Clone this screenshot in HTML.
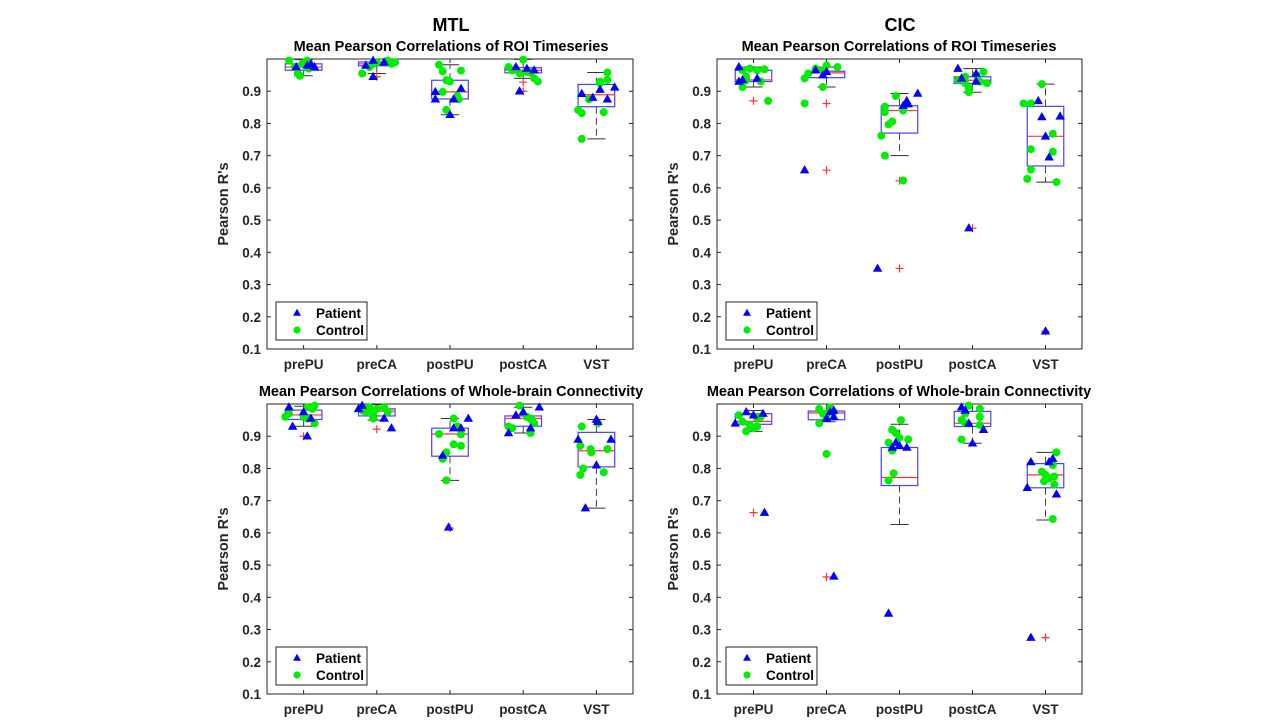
<!DOCTYPE html>
<html><head><meta charset="utf-8">
<style>
html,body{margin:0;padding:0;background:#fff;}
svg text{font-family:"Liberation Sans",Arial,sans-serif;font-weight:bold;fill:#262626;}
</style></head>
<body>
<svg id="fig" width="1280" height="720" viewBox="0 0 1280 720" xmlns="http://www.w3.org/2000/svg">
<text x="451" y="31" font-size="18" text-anchor="middle" style="fill:#000">MTL</text>
<text x="900" y="31" font-size="18" text-anchor="middle" style="fill:#000">CIC</text>
</svg>
<script>
const categories = ["prePU","preCA","postPU","postCA","VST"];
const yTicks = [0.1,0.2,0.3,0.4,0.5,0.6,0.7,0.8,0.9];
const yTickLabels = ["0.1","0.2","0.3","0.4","0.5","0.6","0.7","0.8","0.9"];
// box stats per category: [whiskerLow, q1, median, q3, whiskerHigh]
const tlBoxes = [[0.948,0.965,0.975,0.985,0.998],[0.955,0.979,0.985,0.991,1.0],[0.827,0.876,0.898,0.934,0.982],[0.940,0.957,0.965,0.973,0.999],[0.752,0.852,0.889,0.921,0.958]];
const tlOutliers = [[],[0.945],[],[0.928,0.900],[]];
const tlPatients = [[[0.975,-0.1],[0.985,0.1],[0.975,0.15],[0.98,0.05]],[[0.995,-0.05],[0.98,-0.15],[0.945,-0.05],[0.99,0.1]],[[0.898,-0.2],[0.875,-0.2],[0.827,0],[0.908,0.15],[0.875,0.05]],[[0.975,-0.1],[0.97,0.05],[0.965,0.15],[0.900,-0.05]],[[0.892,-0.2],[0.88,-0.05],[0.875,0.15],[0.912,0.25],[0.905,0.05]]];
const tlControls = [[[0.995,-0.2],[0.975,-0.12],[0.955,-0.08],[0.948,-0.05],[0.99,0.02],[0.995,0.05],[0.985,-0.02],[0.97,0.07]],[[0.955,-0.2],[0.975,-0.1],[0.985,-0.05],[0.99,0],[0.995,0.15],[0.985,0.2],[0.99,0.25]],[[0.982,-0.15],[0.962,-0.1],[0.934,-0.05],[0.93,0],[0.898,-0.1],[0.964,0.15],[0.885,0.1],[0.875,0.12],[0.842,-0.05]],[[0.975,-0.2],[0.965,-0.15],[0.998,0],[0.96,0.05],[0.955,-0.05],[0.958,0.1],[0.94,0.15],[0.93,0.2]],[[0.842,-0.25],[0.832,-0.2],[0.875,-0.1],[0.752,-0.2],[0.93,0.05],[0.935,0.15],[0.925,0.05],[0.958,0.15],[0.835,0.1]]];

const trBoxes = [[0.913,0.930,0.935,0.965,0.975],[0.913,0.942,0.957,0.962,0.975],[0.700,0.770,0.840,0.855,0.893],[0.897,0.924,0.934,0.945,0.970],[0.618,0.668,0.760,0.853,0.922]];
const trOutliers = [[0.870],[0.862,0.655],[0.622,0.350],[0.475],[0.155]];
const trPatients = [[[0.975,-0.2],[0.93,-0.2],[0.935,-0.15],[0.94,0.05]],[[0.655,-0.3],[0.965,-0.15],[0.95,-0.05],[0.96,0]],[[0.35,-0.3],[0.855,0.05],[0.87,0.1],[0.86,0.12],[0.893,0.25]],[[0.97,-0.2],[0.94,-0.15],[0.93,0.05],[0.955,0.05],[0.475,-0.05]],[[0.87,-0.1],[0.82,-0.05],[0.822,0.2],[0.76,0],[0.695,0.05],[0.155,0]]];
const trControls = [[[0.965,-0.15],[0.97,-0.05],[0.945,-0.1],[0.965,0.05],[0.968,0.15],[0.935,-0.1],[0.93,0.1],[0.913,-0.15],[0.87,0.2]],[[0.862,-0.3],[0.94,-0.3],[0.955,-0.25],[0.97,-0.15],[0.965,-0.05],[0.98,0],[0.975,0.15],[0.913,-0.05]],[[0.762,-0.25],[0.70,-0.2],[0.797,-0.15],[0.806,-0.1],[0.835,-0.2],[0.852,-0.2],[0.885,-0.05],[0.84,0.05],[0.623,0.05]],[[0.935,-0.2],[0.945,-0.1],[0.925,-0.1],[0.91,-0.05],[0.897,-0.05],[0.95,0.05],[0.96,0.15],[0.925,0.2],[0.93,0.1]],[[0.862,-0.3],[0.862,-0.2],[0.922,-0.05],[0.72,-0.2],[0.657,-0.2],[0.628,-0.25],[0.768,0.1],[0.712,0.1],[0.618,0.15]]];

const blBoxes = [[0.931,0.952,0.966,0.981,0.993],[0.950,0.963,0.978,0.985,0.998],[0.763,0.838,0.907,0.925,0.955],[0.910,0.931,0.955,0.963,0.990],[0.677,0.805,0.855,0.912,0.952]];
const blOutliers = [[0.900],[0.922],[0.615],[],[]];
const blPatients = [[[0.99,-0.2],[0.93,-0.15],[0.90,0.05],[0.975,0],[0.955,0.1]],[[0.995,-0.2],[0.985,-0.25],[0.955,0.1],[0.925,0.2]],[[0.955,0.25],[0.925,0.05],[0.925,0.15],[0.84,-0.1],[0.617,-0.02]],[[0.99,0.22],[0.965,-0.1],[0.91,-0.2],[0.925,0.1],[0.975,0]],[[0.952,0],[0.89,-0.25],[0.89,0.2],[0.81,0],[0.677,-0.15],[0.945,0.02]]];
const blControls = [[[0.96,-0.25],[0.97,-0.2],[0.99,0.05],[0.995,0.15],[0.985,0.12],[0.96,0],[0.955,0.05],[0.94,0.15]],[[0.98,-0.2],[0.985,-0.15],[0.99,-0.1],[0.975,-0.15],[0.985,0],[0.99,0.1],[0.975,0.15],[0.97,-0.05],[0.955,-0.05]],[[0.955,0.05],[0.93,0.1],[0.907,-0.15],[0.906,0.15],[0.875,0.05],[0.87,0.15],[0.85,-0.05],[0.83,-0.1],[0.763,-0.05]],[[0.995,-0.05],[0.96,0.05],[0.955,0.1],[0.95,0.12],[0.94,0.15],[0.93,-0.2],[0.925,-0.15],[0.91,0.1]],[[0.93,-0.2],[0.94,0.02],[0.87,-0.22],[0.86,-0.08],[0.86,0.15],[0.85,-0.07],[0.80,-0.18],[0.78,-0.22],[0.788,0.1]]];

const brBoxes = [[0.915,0.937,0.946,0.970,0.980],[0.945,0.951,0.972,0.978,1.0],[0.626,0.747,0.772,0.865,0.937],[0.878,0.930,0.940,0.977,1.0],[0.640,0.740,0.780,0.815,0.850]];
const brOutliers = [[0.663],[0.845,0.463],[],[],[0.275]];
const brPatients = [[[0.975,-0.1],[0.97,0.13],[0.965,0],[0.94,-0.25],[0.663,0.15]],[[0.98,0.1],[0.955,0],[0.96,0.1],[0.975,0.05],[0.465,0.1]],[[0.865,-0.1],[0.865,0.1],[0.87,0],[0.88,-0.05],[0.35,-0.15]],[[0.99,-0.15],[0.98,-0.1],[0.94,-0.05],[0.92,0.15],[0.878,0]],[[0.82,-0.2],[0.82,0.05],[0.83,0.1],[0.74,-0.25],[0.72,0.15],[0.275,-0.2]]];
const brControls = [[[0.965,-0.2],[0.96,0.1],[0.955,0.05],[0.945,-0.15],[0.935,-0.05],[0.93,0.05],[0.925,0],[0.915,-0.1],[0.96,0.05]],[[0.985,-0.1],[0.99,0.05],[0.975,0.1],[0.97,-0.05],[0.96,0],[0.94,-0.1],[0.845,0],[0.98,0.05]],[[0.95,0.02],[0.92,-0.1],[0.91,-0.05],[0.895,0],[0.89,0.12],[0.88,-0.15],[0.855,-0.1],[0.785,-0.08],[0.763,-0.15]],[[0.995,-0.05],[0.985,0.1],[0.97,-0.1],[0.96,0.1],[0.95,-0.15],[0.935,0.1],[0.94,-0.1],[0.89,-0.15]],[[0.85,0.15],[0.81,0.1],[0.79,-0.05],[0.78,0],[0.775,0.12],[0.77,0.05],[0.76,-0.02],[0.75,0.12],[0.643,0.1]]];

const NS = "http://www.w3.org/2000/svg";
const svg = document.getElementById('fig');
function mk(tag, attrs, parent){const e=document.createElementNS(NS,tag);for(const k in attrs)e.setAttribute(k,attrs[k]);(parent||svg).appendChild(e);return e;}

const panels = [
 {name:'mtl-roi', title:'Mean Pearson Correlations of ROI Timeseries', L:267,R:633,T:59,B:349,tx:451,ty:51,boxes:tlBoxes,out:tlOutliers,pat:tlPatients,con:tlControls},
 {name:'cic-roi', title:'Mean Pearson Correlations of ROI Timeseries', L:717,R:1082,T:59,B:349,tx:899,ty:51,boxes:trBoxes,out:trOutliers,pat:trPatients,con:trControls},
 {name:'mtl-wb', title:'Mean Pearson Correlations of Whole-brain Connectivity', L:267,R:633,T:404,B:694,tx:451,ty:396,boxes:blBoxes,out:blOutliers,pat:blPatients,con:blControls},
 {name:'cic-wb', title:'Mean Pearson Correlations of Whole-brain Connectivity', L:717,R:1082,T:404,B:694,tx:899,ty:396,boxes:brBoxes,out:brOutliers,pat:brPatients,con:brControls}
];

function tri(g,x,y,s){return mk('polygon',{points:`${x},${y-s} ${x-s*0.95},${y+s*0.65} ${x+s*0.95},${y+s*0.65}`,fill:'#0000ff'},g);}

panels.forEach(p=>{
  const g = mk('g',{});
  
  
  const xs = c => p.L + (c-0.5)/5*(p.R-p.L);
  const ys = v => p.B - (v-0.1)/0.9*(p.B-p.T);
  const t = mk('text',{x:p.tx,y:p.ty,'font-size':14.5,'text-anchor':'middle'},g);
  t.textContent = p.title; t.style.fill='#000';
  
  
  mk('rect',{x:p.L,y:p.T,width:p.R-p.L,height:p.B-p.T,fill:'none',stroke:'#262626','stroke-width':1},g);
  yTicks.forEach((v,i)=>{
    const y=ys(v);
    mk('line',{x1:p.L,x2:p.L+4,y1:y,y2:y,stroke:'#262626'},g);
    mk('line',{x1:p.R,x2:p.R-4,y1:y,y2:y,stroke:'#262626'},g);
    const tl=mk('text',{x:p.L-6,y:y+5,'font-size':13.5,'text-anchor':'end'},g);
    tl.textContent=yTickLabels[i];
    
    
  });
  categories.forEach((c,i)=>{
    const x=xs(i+1);
    mk('line',{x1:x,x2:x,y1:p.B,y2:p.B-4,stroke:'#262626'},g);
    mk('line',{x1:x,x2:x,y1:p.T,y2:p.T+4,stroke:'#262626'},g);
    const tl=mk('text',{x:x,y:p.B+20,'font-size':13.5,'text-anchor':'middle'},g);
    tl.textContent=c;
    
    
  });
  const yl=mk('text',{x:0,y:0,'font-size':14.5,'text-anchor':'middle',transform:`translate(${p.L-39},${(p.T+p.B)/2}) rotate(-90)`},g);
  yl.textContent="Pearson R's";
  
  
  p.boxes.forEach((b,i)=>{
    const x=xs(i+1), hw=0.25/5*(p.R-p.L);
    const bg=mk('g',{},g);
    
    
    mk('line',{x1:x,x2:x,y1:ys(b[3]),y2:ys(b[4]),stroke:'#444','stroke-dasharray':'7,4'},bg);
    mk('line',{x1:x,x2:x,y1:ys(b[1]),y2:ys(b[0]),stroke:'#444','stroke-dasharray':'7,4'},bg);
    mk('line',{x1:x-hw/2,x2:x+hw/2,y1:ys(b[4]),y2:ys(b[4]),stroke:'#333'},bg);
    mk('line',{x1:x-hw/2,x2:x+hw/2,y1:ys(b[0]),y2:ys(b[0]),stroke:'#333'},bg);
    mk('rect',{x:x-hw,y:ys(b[3]),width:2*hw,height:ys(b[1])-ys(b[3]),fill:'none',stroke:'#4444ff','stroke-width':1.2},bg);
    mk('line',{x1:x-hw,x2:x+hw,y1:ys(b[2]),y2:ys(b[2]),stroke:'#ff3333','stroke-width':1.2},bg);
    p.out[i].forEach(v=>{
      const y=ys(v);
      mk('path',{d:`M${x-4},${y}H${x+4}M${x},${y-4}V${y+4}`,stroke:'#ff3333','stroke-width':1.2},bg);
    });
  });
  const hwu = 1/5*(p.R-p.L);
  p.con.forEach((pts,i)=>pts.forEach(pt=>{
    const c=mk('circle',{cx:xs(i+1)+pt[1]*hwu,cy:ys(pt[0]),r:4,fill:'#00ee00'},g);
    
    
  }));
  p.pat.forEach((pts,i)=>pts.forEach(pt=>{
    const m=tri(g,xs(i+1)+pt[1]*hwu,ys(pt[0]),5);
    
    
  }));
  const lg=mk('g',{},g);
  
  
  const lx=p.L+9, ly=p.B-47;
  mk('rect',{x:lx,y:ly,width:91,height:38,fill:'#fff',stroke:'#262626'},lg);
  tri(lg,lx+21,ly+11,4.2);
  mk('circle',{cx:lx+21,cy:ly+28,r:3.6,fill:'#00ee00'},lg);
  const t1=mk('text',{x:lx+40,y:ly+16,'font-size':13.5},lg); t1.textContent='Patient'; t1.style.fill='#000';
  
  
  const t2=mk('text',{x:lx+40,y:ly+33,'font-size':13.5},lg); t2.textContent='Control'; t2.style.fill='#000';
  
  
});
</script>
</body></html>
